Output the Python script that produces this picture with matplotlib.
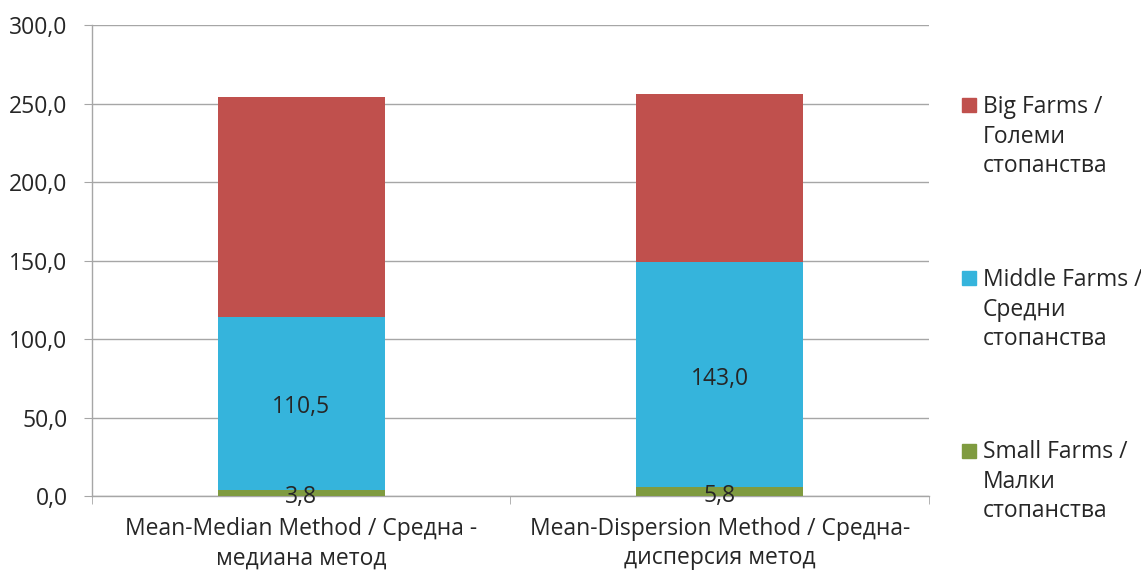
import matplotlib.pyplot as plt
from matplotlib.patches import Rectangle
from matplotlib.ticker import FuncFormatter, FixedLocator
import numpy as np

plt.rcParams["font.family"] = ["Open Sans", "DejaVu Sans"]

# chart data
categories = ["Mean-Median Method / Средна -\nмедиана метод",
              "Mean-Dispersion Method / Средна-\nдисперсия метод"]
small_farms = [3.8, 5.8]
middle_farms = [110.5, 143.0]
big_farms = [139.8, 107.3]
series_names = ["Small Farms /\nМалки\nстопанства",
                "Middle Farms /\nСредни\nстопанства",
                "Big Farms /\nГолеми\nстопанства"]
colors = ["#7F9B3F", "#35B4DC", "#C0504D"]

textColor = "#262626"
gridColor = "#A6A6A6"
fontSize = 16.5

fig = plt.figure(figsize=(11.41, 5.70), dpi=100)
ax = fig.add_axes([0.0806, 0.1298, 0.7336, 0.8262])

x = np.arange(len(categories))
width = 0.4
bottom = np.zeros(len(categories))
fmt = lambda v: "{:.1f}".format(v).replace(".", ",")
for i, (vals, col) in enumerate(zip([small_farms, middle_farms, big_farms], colors)):
    ax.bar(x, vals, width, bottom=bottom, color=col, edgecolor="none", zorder=3)
    # value labels only for small and middle farms
    if i < 2:
        for xi, b0, v in zip(x, bottom, vals):
            ax.annotate(fmt(v), xy=(xi, b0 + v / 2), xytext=(0, -3),
                        textcoords="offset points", ha="center", va="center",
                        fontsize=fontSize, color=textColor, zorder=4)
    bottom = bottom + np.array(vals)

ax.set_xlim(-0.5, 1.5)
ax.set_ylim(0, 300)
ax.set_yticks(np.arange(0, 301, 50))
ax.yaxis.set_major_formatter(FuncFormatter(lambda v, p: fmt(v)))
ax.yaxis.grid(True, color=gridColor, linewidth=1, zorder=0)

ax.set_xticks(x)
ax.set_xticklabels(categories, fontsize=fontSize, color=textColor, linespacing=1.3)
ax.tick_params(axis="x", which="major", length=0, pad=15)
ax.xaxis.set_minor_locator(FixedLocator([-0.5, 0.5, 1.5]))
ax.tick_params(axis="x", which="minor", length=6, color=gridColor, direction="out")
ax.tick_params(axis="y", length=6, color=gridColor, labelsize=fontSize,
               labelcolor=textColor, pad=11.5)

for s in ["top", "right"]:
    ax.spines[s].set_visible(False)
for s in ["left", "bottom"]:
    ax.spines[s].set_color(gridColor)
    ax.spines[s].set_linewidth(1)

# legend on the right, big farms on top
markerBottom = [0.8035, 0.500, 0.1965]
textTop = [0.8325, 0.529, 0.2272]
for name, col, mb, tt in zip(series_names[::-1], colors[::-1], markerBottom, textTop):
    fig.add_artist(Rectangle((0.8431, mb), 0.0123, 0.0246,
                             transform=fig.transFigure, color=col))
    fig.text(0.8615, tt, name, fontsize=fontSize, color=textColor,
             va="top", ha="left", linespacing=1.3)

fig.savefig("out.png", dpi=100)
